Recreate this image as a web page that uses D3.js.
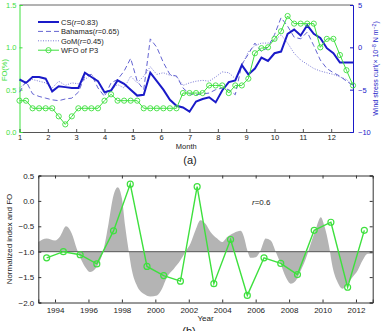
<!DOCTYPE html>
<html>
<head>
<meta charset="utf-8">
<script src="https://cdn.jsdelivr.net/npm/d3@7"></script>
<style>
  body { margin: 0; background: #fff; }
  text { font-family: "Liberation Sans", Arial, sans-serif; }
</style>
</head>
<body>
<svg id="chart" width="382" height="331"></svg>
<script>
// ──────────────────────
// Data (a): weekly climatology, 52 weeks
// ──────────────────────
const monthTicks = [1, 2, 3, 4, 5, 6, 7, 8, 9, 10, 11, 12];
const foTicks = [0, 0.5, 1.0, 1.5];
const curlTicks = [5, 0, -5, -10];

// wind stress curl (x 10^-8 N m^-2), right axis
const csCurl = [-3.8,-4.2,-3.5,-3.5,-3.7,-5.2,-4.6,-4.7,-4.8,-4.8,-3.0,-3.5,-4.0,-5.3,-5.1,-3.9,-4.3,-5.0,-5.7,-5.6,
  -3.0,-4.0,-5.0,-6.2,-6.9,-7.1,-7.6,-6.4,-6.1,-5.9,-6.5,-5.1,-4.1,-3.9,-2.1,-3.2,-2.5,-1.2,-1.6,-0.7,
  -0.5,1.6,2.1,1.4,2.6,1.6,1.1,-0.1,-0.7,-1.8,-1.8,-1.8];
const bahamasCurl = [-5.3,-4.0,-5.5,-5.8,-6.0,-6.2,-6.3,-6.1,-6.0,-5.3,-3.4,-3.2,-4.8,-5.8,-4.2,-3.8,-2.8,-1.3,-4.0,-5.0,
  1.0,0.0,-1.8,-3.2,-3.4,-4.8,-5.5,-5.6,-5.5,-5.4,-5.0,-4.8,-5.0,-5.6,-2.0,-0.8,0.5,-0.5,0.0,1.5,
  3.5,2.5,1.2,1.0,1.8,0.2,-1.5,-2.5,-3.0,-3.4,-4.0,-4.5];
const gomCurl = [-4.8,-4.2,-3.8,-4.0,-4.2,-4.8,-4.0,-4.5,-4.2,-4.3,-3.8,-3.2,-4.0,-5.5,-5.0,-4.4,-4.8,-3.4,-4.2,-3.4,
  -2.3,-3.2,-3.0,-3.3,-3.4,-4.5,-4.2,-4.0,-3.9,-4.0,-3.5,-2.9,-3.0,-3.7,-2.2,-0.5,0.2,0.5,0.5,0.8,
  1.5,0.5,-0.7,-1.5,-2.0,-2.5,-2.8,-3.0,-3.2,-3.5,-3.8,-4.5];
// WFO frequency of occurrence (%), left axis
const wfoFO = [0.37,0.37,0.28,0.28,0.28,0.28,0.185,0.09,0.185,0.28,0.28,0.28,0.28,0.37,0.445,0.37,0.37,0.37,0.37,0.28,
  0.28,0.28,0.28,0.28,0.28,0.46,0.46,0.46,0.46,0.55,0.55,0.55,0.46,0.55,0.55,0.63,0.93,0.99,1.0,1.1,
  1.19,1.37,1.28,1.28,1.28,1.28,1.0,1.1,1.1,0.91,0.73,0.55];

// ──────────────────────
// Data (b): interannual
// ──────────────────────
const yearTicks = [1994, 1996, 1998, 2000, 2002, 2004, 2006, 2008, 2010, 2012];
const normTicks = [0.5, 0.0, -0.5, -1.0, -1.5, -2.0];
const foYears = d3.range(1993, 2013);
const foNorm = [-1.12,-1.0,-1.06,-1.24,-0.59,0.33,-1.29,-1.47,-1.58,0.28,
  -1.63,-0.76,-1.86,-1.12,-1.23,-1.45,-0.58,-0.42,-1.70,-0.58];
const indexTime = [1993.0,1993.5,1994.0,1994.3,1994.66,1995.0,1995.3,1995.5,1995.8,1996.1,1996.4,1996.7,1996.9,
  1997.2,1997.5,1997.75,1998.0,1998.2,1998.4,1998.6,1998.9,1999.3,1999.7,2000.1,2000.4,2000.7,2001.1,2001.5,
  2001.8,2002.1,2002.4,2002.7,2003.0,2003.3,2003.7,2004.0,2004.3,2004.7,2005.1,2005.3,2005.5,2005.7,2006.0,
  2006.3,2006.6,2006.9,2007.2,2007.5,2007.8,2008.1,2008.4,2008.7,2009.0,2009.3,2009.6,2009.9,2010.1,2010.4,
  2010.6,2010.9,2011.2,2011.5,2011.8,2012.1,2012.4,2012.7,2013.0];
const indexValue = [-0.81,-0.74,-0.78,-0.70,-0.50,-0.64,-0.94,-1.11,-1.30,-1.40,-1.34,-1.17,-0.97,
  -0.45,0.11,0.27,0.05,-0.51,-0.97,-1.37,-1.67,-1.83,-1.88,-1.86,-1.73,-1.50,-1.34,-1.17,
  -1.00,-0.84,-0.58,-0.38,-0.45,-0.61,-0.74,-0.81,-0.71,-0.63,-0.59,-0.71,-0.97,-1.12,-1.11,
  -0.97,-0.74,-0.78,-1.00,-1.24,-1.50,-1.63,-1.57,-1.37,-1.14,-0.84,-0.55,-0.32,-0.48,-0.91,
  -1.30,-1.60,-1.73,-1.63,-1.50,-1.37,-1.17,-1.04,-1.04];

const svg = d3.select("#chart");
const GREEN = "#3ee03e";
const BLUE = "#1a1ac8";
const FONT = 7.5;

// ──────────────────────
// Panel (a)
// ──────────────────────
const weekMonth = d3.range(52).map(i => 1 + i * 12 / 52);
const a = { left: 19.5, right: 353, top: 5, bottom: 132 };

const xa = d3.scaleLinear().domain([1, weekMonth[51]]).range([a.left, a.right]);
const yFO = d3.scaleLinear().domain([0, 1.5]).range([a.bottom, a.top]);
const yCurl = d3.scaleLinear().domain([-10, 5]).range([a.bottom, a.top]);

// top border
svg.append("line")
  .attr("x1", a.left).attr("x2", a.right).attr("y1", a.top).attr("y2", a.top)
  .attr("stroke", "#666").attr("stroke-width", 1);

const xAxisA = svg.append("g")
  .attr("transform", `translate(0,${a.bottom})`)
  .call(d3.axisBottom(xa).tickValues(monthTicks).tickSize(-3).tickPadding(3).tickFormat(d3.format("d")));
xAxisA.select(".domain").attr("stroke", "#555");
xAxisA.selectAll(".tick line").attr("stroke", "#555");
xAxisA.selectAll("text").attr("font-size", FONT).attr("fill", "#222");

const yAxisL = svg.append("g")
  .attr("transform", `translate(${a.left},0)`)
  .call(d3.axisLeft(yFO).tickValues(foTicks).tickSize(-3).tickPadding(3).tickFormat(d3.format(".1f")));
yAxisL.select(".domain").attr("stroke", GREEN);
yAxisL.selectAll(".tick line").attr("stroke", GREEN);
yAxisL.selectAll("text").attr("font-size", FONT).attr("fill", GREEN);

const yAxisR = svg.append("g")
  .attr("transform", `translate(${a.right},0)`)
  .call(d3.axisRight(yCurl).tickValues(curlTicks).tickSize(-3).tickPadding(5).tickFormat(d => d < 0 ? "\u2212" + (-d) : d));
yAxisR.select(".domain").attr("stroke", BLUE);
yAxisR.selectAll(".tick line").attr("stroke", BLUE);
yAxisR.selectAll("text").attr("font-size", FONT).attr("fill", BLUE);

const lineCurl = vals => d3.line()
  .x((d, i) => xa(weekMonth[i]))
  .y(d => yCurl(d))(vals);

svg.append("path").attr("d", lineCurl(gomCurl))
  .attr("fill", "none").attr("stroke", "#7a7ad6").attr("stroke-width", 1).attr("stroke-dasharray", "1,1.5");
svg.append("path").attr("d", lineCurl(bahamasCurl))
  .attr("fill", "none").attr("stroke", "#6464d2").attr("stroke-width", 1).attr("stroke-dasharray", "5,3");
svg.append("path").attr("d", lineCurl(csCurl))
  .attr("fill", "none").attr("stroke", BLUE).attr("stroke-width", 2);

svg.append("path")
  .attr("d", d3.line().x((d, i) => xa(weekMonth[i])).y(d => yFO(d))(wfoFO))
  .attr("fill", "none").attr("stroke", GREEN).attr("stroke-width", 1);
svg.append("g").selectAll("circle")
  .data(wfoFO)
  .enter()
  .append("circle")
  .attr("cx", (d, i) => xa(weekMonth[i]))
  .attr("cy", d => yFO(d))
  .attr("r", 2.6)
  .attr("fill", "none")
  .attr("stroke", GREEN)
  .attr("stroke-width", 0.9);

// axis titles
svg.append("text")
  .attr("x", (a.left + a.right) / 2).attr("y", 149)
  .attr("text-anchor", "middle").attr("font-size", FONT).attr("fill", "#222")
  .text("Month");
svg.append("text")
  .attr("transform", "rotate(-90)")
  .attr("x", -70).attr("y", 7)
  .attr("text-anchor", "middle").attr("font-size", FONT).attr("fill", GREEN)
  .text("FO(%)");
const rLab = svg.append("text")
  .attr("transform", "rotate(-90)")
  .attr("x", -(a.top + a.bottom) / 2).attr("y", 378)
  .attr("text-anchor", "middle").attr("font-size", 7).attr("fill", BLUE);
rLab.append("tspan").text("Wind stress curl(\u00d7 10");
rLab.append("tspan").attr("dy", -2.5).attr("font-size", 5).text("\u22128");
rLab.append("tspan").attr("dy", 2.5).text(" N m");
rLab.append("tspan").attr("dy", -2.5).attr("font-size", 5).text("\u22122");
rLab.append("tspan").attr("dy", 2.5).text(")");

svg.append("text")
  .attr("x", 190).attr("y", 164)
  .attr("text-anchor", "middle").attr("font-size", 11).attr("fill", "#222")
  .text("(a)");

// legend
const legendItems = [
  { name: "CS(", r: "r", val: "=0.83)", stroke: BLUE, width: 2, dash: null, marker: false },
  { name: "Bahamas(", r: "r", val: "=0.65)", stroke: "#6464d2", width: 1, dash: "5,3", marker: false },
  { name: "GoM(", r: "r", val: "=0.45)", stroke: "#7a7ad6", width: 1, dash: "1,1.5", marker: false },
  { name: "WFO of P3", r: "", val: "", stroke: GREEN, width: 1, dash: null, marker: true }
];
const legend = svg.append("g").attr("transform", "translate(38,22)");
legend.selectAll("g")
  .data(legendItems)
  .enter()
  .append("g")
  .attr("transform", (d, i) => `translate(0,${i * 9.4})`)
  .each(function (d) {
    const g = d3.select(this);
    g.append("line")
      .attr("x1", 0).attr("x2", 21).attr("y1", 0).attr("y2", 0)
      .attr("stroke", d.stroke).attr("stroke-width", d.width)
      .attr("stroke-dasharray", d.dash);
    if (d.marker) {
      g.append("circle").attr("cx", 10.5).attr("cy", 0).attr("r", 2.6)
        .attr("fill", "none").attr("stroke", GREEN).attr("stroke-width", 0.9);
    }
    const t = g.append("text").attr("x", 23).attr("y", 2.7).attr("font-size", FONT).attr("fill", "#222");
    t.append("tspan").text(d.name);
    t.append("tspan").attr("font-style", "italic").text(d.r);
    t.append("tspan").text(d.val);
  });

// ──────────────────────
// Panel (b)
// ──────────────────────
const b = { left: 38.3, right: 372.7, top: 175.5, bottom: 302.5 };
const xb = d3.scaleLinear().domain([1993, 2013]).range([b.left, b.right]);
const yb = d3.scaleLinear().domain([-2, 0.5]).range([b.bottom, b.top]);

const indexData = indexTime.map((t, i) => ({ t, v: indexValue[i] }));
svg.append("path")
  .datum(indexData)
  .attr("d", d3.area().curve(d3.curveMonotoneX)
    .x(d => xb(d.t)).y0(yb(-1)).y1(d => yb(d.v)))
  .attr("fill", "#b4b4b4");

svg.append("line")
  .attr("x1", b.left).attr("x2", b.right).attr("y1", yb(-1)).attr("y2", yb(-1))
  .attr("stroke", "#555").attr("stroke-width", 1);

const fmtNorm = d => (d < 0 ? "\u2212" : "") + Math.abs(d).toFixed(1);
const xAxisB = svg.append("g").attr("transform", `translate(0,${b.bottom})`)
  .call(d3.axisBottom(xb).tickValues(yearTicks).tickSize(-3).tickPadding(5).tickFormat(d3.format("d")));
const xAxisBt = svg.append("g").attr("transform", `translate(0,${b.top})`)
  .call(d3.axisTop(xb).tickValues(yearTicks).tickSize(-3).tickFormat(""));
const yAxisB = svg.append("g").attr("transform", `translate(${b.left},0)`)
  .call(d3.axisLeft(yb).tickValues(normTicks).tickSize(-3).tickPadding(4).tickFormat(fmtNorm));
const yAxisBr = svg.append("g").attr("transform", `translate(${b.right},0)`)
  .call(d3.axisRight(yb).tickValues(normTicks).tickSize(-3).tickFormat(""));
[xAxisB, xAxisBt, yAxisB, yAxisBr].forEach(g => {
  g.select(".domain").attr("stroke", "#333");
  g.selectAll(".tick line").attr("stroke", "#333");
  g.selectAll("text").attr("font-size", 8).attr("fill", "#222");
});

svg.append("path")
  .attr("d", d3.line().x((d, i) => xb(foYears[i] + 0.5)).y(d => yb(d))(foNorm))
  .attr("fill", "none").attr("stroke", GREEN).attr("stroke-width", 1.4);
svg.append("g").selectAll("circle")
  .data(foNorm)
  .enter()
  .append("circle")
  .attr("cx", (d, i) => xb(foYears[i] + 0.5))
  .attr("cy", d => yb(d))
  .attr("r", 3)
  .attr("fill", "none")
  .attr("stroke", GREEN)
  .attr("stroke-width", 1.2);

const rText = svg.append("text")
  .attr("x", 252).attr("y", 205).attr("font-size", 8).attr("fill", "#222");
rText.append("tspan").attr("font-style", "italic").text("r");
rText.append("tspan").text("=0.6");

svg.append("text")
  .attr("x", (b.left + b.right) / 2).attr("y", 321)
  .attr("text-anchor", "middle").attr("font-size", 8).attr("fill", "#222")
  .text("Year");
svg.append("text")
  .attr("transform", "rotate(-90)")
  .attr("x", -(b.top + b.bottom) / 2).attr("y", 12)
  .attr("text-anchor", "middle").attr("font-size", 8).attr("fill", "#222")
  .text("Normalized index and FO");
svg.append("text")
  .attr("x", 189).attr("y", 335)
  .attr("text-anchor", "middle").attr("font-size", 11).attr("fill", "#222")
  .text("(b)");
</script>
</body>
</html>
